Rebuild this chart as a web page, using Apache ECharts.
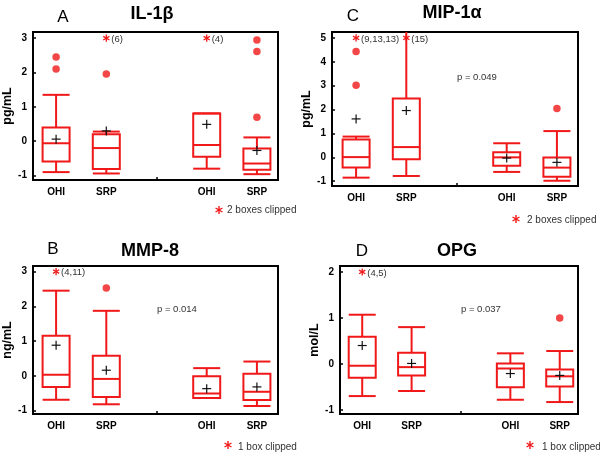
<!DOCTYPE html>
<html>
<head>
<meta charset="utf-8">
<script src="https://cdn.jsdelivr.net/npm/echarts@6/dist/echarts.min.js"></script>
<style>
html,body{margin:0;padding:0;background:#fff;}
#chart{width:600px;height:456px;}
</style>
</head>
<body>
<div id="chart"></div>
<script>
// ---------- data ----------
const xLabels = ['OHI', 'SRP', '', 'OHI', 'SRP'];
const groupPos = [1, 2, 4, 5];

// Panel A: IL-1β   stats = [low, q1, median, q3, high]
const il1bStats = [[-0.90, -0.59, -0.06, 0.40, 1.35], [-0.94, -0.81, -0.20, 0.20, 0.28], [-0.80, -0.45, -0.11, 0.81, 0.81], [-0.96, -0.83, -0.65, -0.21, 0.11]];
const il1bMeans = [0.06, 0.30, 0.49, -0.27];
const il1bOutliers = [[1, 2.45], [1, 2.10], [2, 1.96], [5, 2.95], [5, 2.61], [5, 0.70]];
const il1bClipped = [[2, 3, '(6)'], [4, 3, '(4)']];
const il1bTicks = [-1, 0, 1, 2, 3];

// Panel C: MIP-1α
const mip1aStats = [[-0.85, -0.43, 0.01, 0.75, 0.87], [-0.78, -0.08, 0.43, 2.46, 5.40], [-0.61, -0.35, 0.00, 0.21, 0.59], [-0.98, -0.81, -0.43, -0.01, 1.10]];
const mip1aMeans = [1.61, 1.96, -0.03, -0.21];
const mip1aOutliers = [[1, 4.43], [1, 3.02], [5, 2.05]];
const mip1aClipped = [[1, 5, '(9,13,13)'], [2, 5, '(15)']];
const mip1aTicks = [-1, 0, 1, 2, 3, 4, 5];

// Panel B: MMP-8
const mmp8Stats = [[-0.69, -0.32, 0.03, 1.15, 2.45], [-0.82, -0.61, -0.09, 0.58, 1.87], [-0.64, -0.64, -0.51, -0.01, 0.22], [-0.87, -0.70, -0.46, 0.06, 0.41]];
const mmp8Means = [0.88, 0.16, -0.37, -0.32];
const mmp8Outliers = [[2, 2.53]];
const mmp8Clipped = [[1, 3, '(4,11)']];
const mmp8Ticks = [-1, 0, 1, 2, 3];

// Panel D: OPG
const opgStats = [[-0.70, -0.30, -0.04, 0.59, 1.07], [-0.59, -0.25, -0.07, 0.24, 0.80], [-0.78, -0.51, -0.10, 0.01, 0.23], [-0.83, -0.49, -0.27, -0.12, 0.28]];
const opgMeans = [0.40, 0.01, -0.21, -0.25];
const opgOutliers = [[5, 1.00]];
const opgClipped = [[1, 2, '(4,5)']];
const opgTicks = [-1, 0, 1, 2];

// ---------- styling / layout ----------
const RED = '#f01818';
const FONT = '"Liberation Sans", Arial, sans-serif';

const panels = [
  { stats: il1bStats, means: il1bMeans, outliers: il1bOutliers, clipped: il1bClipped, ticks: il1bTicks,
    yMin: -1.13, yMax: 3.18, xMin: 0.54, xMax: 5.42, unit: 'pg/mL',
    grid: { left: 33, top: 32, width: 245, height: 148 } },
  { stats: mip1aStats, means: mip1aMeans, outliers: mip1aOutliers, clipped: mip1aClipped, ticks: mip1aTicks,
    yMin: -1.2, yMax: 5.25, xMin: 0.52, xMax: 5.42, unit: 'pg/mL',
    grid: { left: 332, top: 32, width: 246, height: 154 } },
  { stats: mmp8Stats, means: mmp8Means, outliers: mmp8Outliers, clipped: mmp8Clipped, ticks: mmp8Ticks,
    yMin: -1.1, yMax: 3.16, xMin: 0.54, xMax: 5.42, unit: 'ng/mL',
    grid: { left: 33, top: 266, width: 245, height: 148 } },
  { stats: opgStats, means: opgMeans, outliers: opgOutliers, clipped: opgClipped, ticks: opgTicks,
    yMin: -1.09, yMax: 2.13, xMin: 0.55, xMax: 5.37, unit: 'mol/L',
    grid: { left: 340, top: 266, width: 238, height: 148 } }
];

function renderBox(params, api) {
  const x = api.value(0);
  const p = v => api.coord([x, v]);
  const lo = p(api.value(1)), q1 = p(api.value(2)), md = p(api.value(3));
  const q3 = p(api.value(4)), hi = p(api.value(5)), mn = p(api.value(6));
  const cx = lo[0], hw = 13.5, cs = 4.5;
  const st = { stroke: RED, lineWidth: 2, fill: null };
  const ln = (x1, y1, x2, y2, style) => ({ type: 'line', shape: { x1, y1, x2, y2 }, style });
  const black = { stroke: '#111', lineWidth: 1.2 };
  return {
    type: 'group',
    children: [
      ln(cx, hi[1], cx, q3[1], st),
      ln(cx - hw, hi[1], cx + hw, hi[1], st),
      ln(cx, q1[1], cx, lo[1], st),
      ln(cx - hw, lo[1], cx + hw, lo[1], st),
      { type: 'rect', shape: { x: cx - hw, y: q3[1], width: 2 * hw, height: q1[1] - q3[1] }, style: { stroke: RED, lineWidth: 2, fill: 'none' } },
      ln(cx - hw, md[1], cx + hw, md[1], st),
      ln(mn[0] - cs, mn[1], mn[0] + cs, mn[1], black),
      ln(mn[0], mn[1] - cs, mn[0], mn[1] + cs, black)
    ]
  };
}

function starShape(cx, cy, r, w) {
  const dx = r * Math.cos(Math.PI / 6), dy = r * Math.sin(Math.PI / 6);
  const st = { stroke: RED, lineWidth: w };
  return [
    { type: 'line', shape: { x1: cx, y1: cy - r, x2: cx, y2: cy + r }, style: st },
    { type: 'line', shape: { x1: cx - dx, y1: cy - dy, x2: cx + dx, y2: cy + dy }, style: st },
    { type: 'line', shape: { x1: cx - dx, y1: cy + dy, x2: cx + dx, y2: cy - dy }, style: st }
  ];
}

function renderClipped(params, api) {
  const pt = api.coord([api.value(0), api.value(1)]);
  const label = params.context.labels[params.dataIndex];
  return {
    type: 'group',
    children: starShape(pt[0], pt[1], 3.6, 1.3).concat([
      { type: 'text', x: pt[0] + 5, y: pt[1] + 1,
        style: { text: label, fill: '#333', font: '9.5px ' + FONT, textAlign: 'left', textVerticalAlign: 'middle' } }
    ])
  };
}

const grids = [], xAxes = [], yAxes = [], series = [];
panels.forEach((pn, i) => {
  grids.push(Object.assign({ show: true, borderColor: '#000', borderWidth: 2, backgroundColor: 'transparent' }, pn.grid));
  xAxes.push({
    type: 'value', gridIndex: i, min: pn.xMin, max: pn.xMax,
    axisLine: { show: true, onZero: false, lineStyle: { color: '#000', width: 2 } },
    splitLine: { show: false },
    axisTick: { show: true, inside: true, length: 3, customValues: [3], lineStyle: { color: '#000', width: 1.5 } },
    axisLabel: { customValues: groupPos, formatter: v => xLabels[Math.round(v) - 1], color: '#000',
      fontWeight: 'bold', fontSize: 10, fontFamily: FONT, margin: 7 }
  });
  yAxes.push({
    type: 'value', gridIndex: i, min: pn.yMin, max: pn.yMax,
    name: pn.unit, nameLocation: 'middle', nameGap: 16,
    nameTextStyle: { color: '#000', fontWeight: 'bold', fontSize: 12.5, fontFamily: FONT },
    axisLine: { show: true, onZero: false, lineStyle: { color: '#000', width: 2 } },
    splitLine: { show: false },
    axisTick: { show: true, inside: true, length: 3, customValues: pn.ticks, lineStyle: { color: '#000', width: 1.5 } },
    axisLabel: { customValues: pn.ticks, color: '#000', fontWeight: 'bold', fontSize: 10, fontFamily: FONT, margin: 6 }
  });
  series.push({
    type: 'custom', xAxisIndex: i, yAxisIndex: i, clip: true, z: 3,
    renderItem: renderBox,
    encode: { x: 0, y: [1, 2, 3, 4, 5, 6] },
    data: pn.stats.map((s, k) => [groupPos[k]].concat(s).concat([pn.means[k]]))
  });
  series.push({
    type: 'scatter', xAxisIndex: i, yAxisIndex: i, symbol: 'circle', symbolSize: 7.5, z: 4,
    itemStyle: { color: RED }, data: pn.outliers
  });
  const labels = pn.clipped.map(c => c[2]);
  series.push({
    type: 'custom', xAxisIndex: i, yAxisIndex: i, clip: false, z: 5,
    renderItem: (params, api) => { params.context.labels = labels; return renderClipped(params, api); },
    encode: { x: 0, y: 1 },
    data: pn.clipped.map(c => [c[0], c[1]])
  });
});

function txt(x, y, text, font, fill, align) {
  return { type: 'text', x, y, style: { text, font, fill: fill || '#000', textAlign: align || 'center', textVerticalAlign: 'middle' } };
}
function legend(sx, sy, tx, ty, text) {
  return [{ type: 'group', children: starShape(sx, sy, 4, 1.4) },
          txt(tx, ty, text, '10px ' + FONT, '#333', 'left')];
}

const graphic = [
  txt(63, 17, 'A', '17px ' + FONT),
  txt(152, 14, 'IL-1β', 'bold 18px ' + FONT),
  txt(353, 16, 'C', '17px ' + FONT),
  txt(452, 13, 'MIP-1α', 'bold 18px ' + FONT),
  txt(53, 249, 'B', '17px ' + FONT),
  txt(150, 251, 'MMP-8', 'bold 18px ' + FONT),
  txt(362, 251, 'D', '17px ' + FONT),
  txt(457, 251, 'OPG', 'bold 18px ' + FONT),
  txt(457, 77, 'p = 0.049', '9.5px ' + FONT, '#333', 'left'),
  txt(157, 309, 'p = 0.014', '9.5px ' + FONT, '#333', 'left'),
  txt(461, 309, 'p = 0.037', '9.5px ' + FONT, '#333', 'left')
].concat(legend(219, 210, 227, 210, '2 boxes clipped'))
 .concat(legend(516, 219, 527, 220, '2 boxes clipped'))
 .concat(legend(228, 445, 238, 447, '1 box clipped'))
 .concat(legend(530, 445, 542, 447, '1 box clipped'));

const chart = echarts.init(document.getElementById('chart'), null, { renderer: 'canvas' });
chart.setOption({
  backgroundColor: '#fff',
  animation: false,
  grid: grids,
  xAxis: xAxes,
  yAxis: yAxes,
  series: series,
  graphic: graphic
});
</script>
</body>
</html>
